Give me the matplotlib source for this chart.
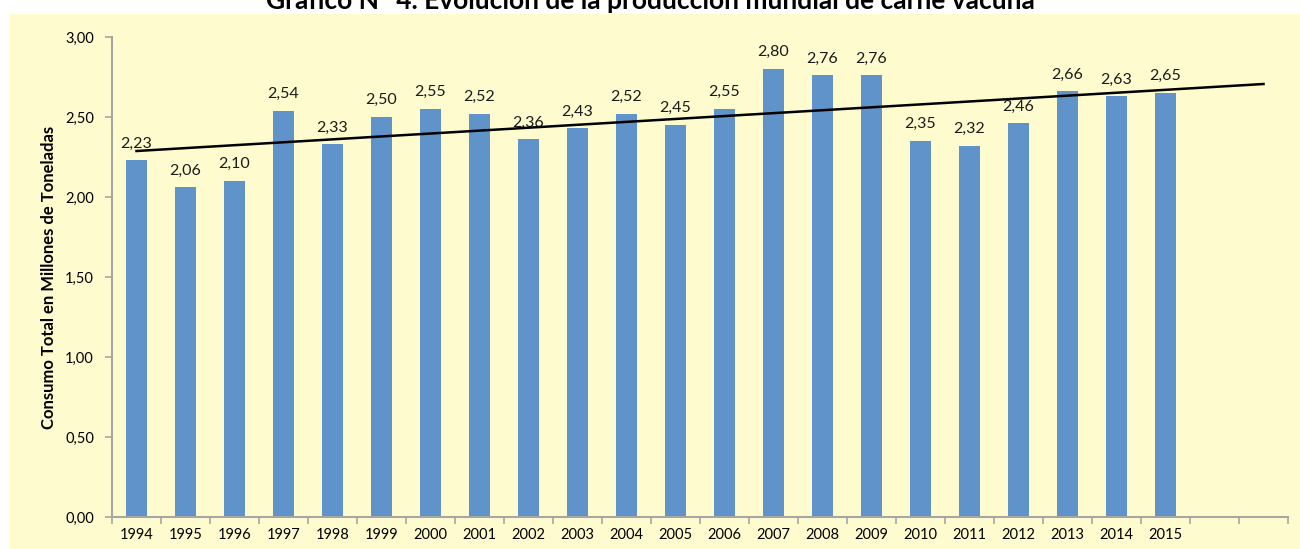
import numpy as np
from matplotlib import pyplot as plt
from matplotlib.patches import Rectangle

years = [str(y) for y in range(1994, 2016)]
consumo = [2.23, 2.06, 2.10, 2.54, 2.33, 2.50, 2.55, 2.52, 2.36, 2.43, 2.52,
           2.45, 2.55, 2.80, 2.76, 2.76, 2.35, 2.32, 2.46, 2.66, 2.63, 2.65]
n_slots = 24  # two empty categories after 2015
y_ticks = [0, 0.5, 1.0, 1.5, 2.0, 2.5, 3.0]

title = "Gráfico N° 4. Evolución de la producción mundial de carne vacuna"
ylabel = "Consumo Total en Millones de Toneladas"

BG = "#FEFCCE"
BAR = "#5F93C9"
AXIS = "#A6A6A6"


def fmt(v: float) -> str:
    return f"{v:.2f}".replace(".", ",")


plt.rcParams["font.family"] = ["Lato", "DejaVu Sans"]

fig = plt.figure(figsize=(13, 5.49), dpi=100)
fig.patch.set_facecolor("white")
fig.patches.append(
    Rectangle((10 / 1300, 0), 1, 1 - 14 / 549, transform=fig.transFigure,
              facecolor=BG, edgecolor="none", zorder=-5)
)
fig.text(0.5, 1 - 9 / 549, title, ha="center", va="baseline", fontsize=19,
         fontweight="bold", color="black")

ax = fig.add_axes([112 / 1300, 1 - 517 / 549, (1288 - 112) / 1300, 480 / 549])
ax.set_facecolor("none")

x = np.arange(len(consumo))
ax.bar(x, consumo, width=0.41, color=BAR, zorder=2)
for xi, v in zip(x, consumo):
    ax.annotate(fmt(v), (xi, v), xytext=(0, 7), textcoords="offset points",
                ha="center", va="bottom", fontsize=11.5, color="#1a1a1a", zorder=3)

# linear trend, projected forward over the empty slots
coef = np.polyfit(x, consumo, 1)
xt = np.array([0, n_slots - 1])
ax.plot(xt, np.polyval(coef, xt), color="black", lw=1.8, zorder=4)

ax.set_xlim(-0.5, n_slots - 0.5)
ax.set_ylim(0, 3.0)
ax.set_xticks(np.arange(-0.5, n_slots, 1.0))
ax.set_xticklabels([])
ax.set_xticks(x, labels=years, minor=True)
ax.tick_params(axis="x", which="minor", length=0, pad=8, labelsize=10.5)
ax.tick_params(axis="x", which="major", length=5, color=AXIS, width=1.2)
ax.set_yticks(y_ticks, labels=[fmt(v) for v in y_ticks])
ax.tick_params(axis="y", length=5, color=AXIS, width=1.2, pad=8, labelsize=10.5)

for side in ["top", "right"]:
    ax.spines[side].set_visible(False)
for side in ["left", "bottom"]:
    ax.spines[side].set_color(AXIS)
    ax.spines[side].set_linewidth(1.5)

ax.set_ylabel(ylabel, fontsize=12, fontweight="bold", labelpad=6)

fig.savefig("out.png", dpi=100)
